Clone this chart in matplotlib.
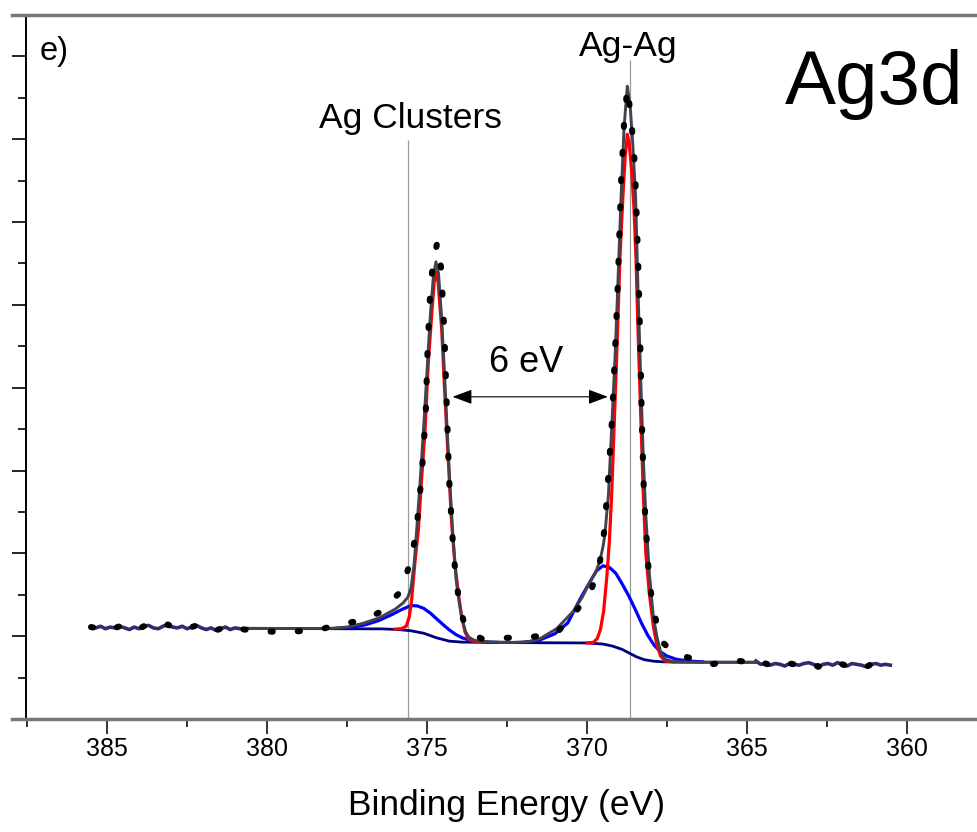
import matplotlib
matplotlib.use('Agg')
import matplotlib.pyplot as plt
from matplotlib.ticker import MultipleLocator, NullFormatter
from matplotlib.patches import ArrowStyle

plt.rcParams['font.family'] = ['Liberation Sans', 'DejaVu Sans']

# raw spectrum, outer (noisy) parts
noise_left_x = [385.5, 385.35, 385.2, 385.05, 384.9, 384.75, 384.6, 384.45, 384.3, 384.15,
                384.0, 383.85, 383.7, 383.55, 383.4, 383.25, 383.1, 382.95, 382.8, 382.65,
                382.5, 382.35, 382.2, 382.05, 381.9, 381.75, 381.6, 381.45, 381.3, 381.15,
                381.0, 380.85, 380.7]
noise_left_y = [1.11, 1.10, 1.12, 1.09, 1.11, 1.10, 1.12, 1.10, 1.08, 1.11,
                1.09, 1.12, 1.13, 1.10, 1.09, 1.12, 1.14, 1.11, 1.10, 1.12,
                1.09, 1.11, 1.13, 1.10, 1.08, 1.10, 1.07, 1.09, 1.11, 1.08,
                1.10, 1.09, 1.08]
noise_right_x = [364.72, 364.57, 364.42, 364.27, 364.12, 363.97, 363.82, 363.67, 363.52, 363.37,
                 363.22, 363.07, 362.92, 362.77, 362.62, 362.47, 362.32, 362.17, 362.02, 361.87,
                 361.72, 361.57, 361.42, 361.27, 361.12, 360.97, 360.82, 360.67, 360.52]
noise_right_y = [0.70, 0.66, 0.67, 0.65, 0.67, 0.66, 0.64, 0.67, 0.66, 0.65,
                 0.67, 0.68, 0.66, 0.63, 0.66, 0.67, 0.65, 0.68, 0.66, 0.64,
                 0.67, 0.66, 0.65, 0.63, 0.66, 0.67, 0.65, 0.66, 0.65]

# raw spectrum inside the fit window
raw_x = [380.5, 380.0, 379.3, 378.45, 377.67, 377.0, 376.42, 375.82, 375.53, 375.34,
         375.17, 375.04, 374.99, 374.91, 374.82, 374.68, 374.56, 374.46, 374.37, 374.31,
         374.20, 374.13, 374.02, 373.87, 373.6, 373.29, 372.5, 371.75, 370.97, 370.43,
         369.89, 369.61, 369.45, 369.33, 369.21, 369.05, 368.93, 368.84, 368.74, 368.62,
         368.50, 368.40, 368.34, 368.29, 368.22, 368.11, 368.05, 367.91, 367.70, 367.3,
         366.9, 366.1, 365.44, 364.8]
raw_y = [1.075, 1.055, 1.055, 1.07, 1.15, 1.19, 1.30, 1.54, 1.88, 2.24,
         2.93, 3.67, 4.38, 5.08, 5.50, 5.75, 5.45, 4.70, 3.63, 2.90,
         2.18, 1.84, 1.48, 1.20, 1.03, 0.97, 0.98, 0.99, 1.03, 1.26,
         1.53, 1.86, 2.30, 2.95, 3.66, 5.10, 6.53, 7.20, 7.62, 7.25,
         6.67, 5.50, 4.62, 3.66, 2.71, 2.00, 1.65, 1.30, 0.95, 0.80,
         0.75, 0.66, 0.71, 0.68]

# Shirley background
bg_x = [380.6, 378.0, 376.4, 375.9, 375.5, 375.1, 374.7, 374.3, 373.9, 372.0,
        370.0, 369.5, 369.2, 368.9, 368.7, 368.45, 368.2, 367.9, 367.6, 367.0, 364.7]
bg_y = [1.093, 1.09, 1.088, 1.08, 1.065, 1.035, 0.98, 0.94, 0.928, 0.922,
        0.918, 0.905, 0.88, 0.84, 0.80, 0.75, 0.715, 0.697, 0.69, 0.686, 0.685]

# Ag clusters components (blue)
blue1_x = [377.8, 377.3, 376.9, 376.5, 376.1, 375.8, 375.5, 375.3, 375.1, 374.9,
           374.7, 374.5, 374.3, 374.1, 373.9, 373.6, 373.2, 372.8]
blue1_y = [1.095, 1.11, 1.14, 1.19, 1.26, 1.32, 1.37, 1.365, 1.335, 1.28,
           1.21, 1.14, 1.075, 1.02, 0.98, 0.945, 0.93, 0.925]
blue2_x = [372.0, 371.5, 371.0, 370.6, 370.2, 369.9, 369.7, 369.5, 369.3, 369.1,
           368.9, 368.7, 368.5, 368.3, 368.1, 367.9, 367.7, 367.5, 367.2, 366.8, 366.4]
blue2_y = [0.925, 0.95, 1.03, 1.16, 1.46, 1.66, 1.79, 1.85, 1.83, 1.76,
           1.63, 1.49, 1.33, 1.16, 1.01, 0.89, 0.81, 0.76, 0.72, 0.70, 0.69]

# Ag-Ag components (red)
red1_x = [376.0, 375.8, 375.65, 375.55, 375.48, 375.38, 375.27, 375.17, 375.06, 374.96,
          374.85, 374.77, 374.72, 374.65, 374.54, 374.44, 374.33, 374.23, 374.13, 374.02,
          373.92, 373.81, 373.71, 373.55, 373.3]
red1_y = [1.085, 1.09, 1.12, 1.24, 1.44, 1.88, 2.28, 2.89, 3.49, 4.30,
          4.90, 5.30, 5.40, 5.26, 4.70, 3.89, 3.09, 2.36, 1.88, 1.52,
          1.24, 1.05, 0.97, 0.94, 0.932]
red2_x = [370.0, 369.8, 369.68, 369.58, 369.48, 369.38, 369.30, 369.23, 369.15, 369.05,
          368.97, 368.88, 368.81, 368.74, 368.68, 368.60, 368.53, 368.47, 368.40, 368.32,
          368.24, 368.16, 368.05, 367.93, 367.82, 367.70, 367.55, 367.3]
red2_y = [0.918, 0.925, 0.97, 1.08, 1.30, 1.72, 2.15, 2.70, 3.55, 4.62,
          5.57, 6.29, 6.77, 7.06, 6.95, 6.60, 6.15, 5.57, 4.62, 3.66,
          2.71, 1.99, 1.51, 1.13, 0.90, 0.76, 0.70, 0.69]

# fit envelope
env_x = [380.6, 379.5, 378.5, 378.0, 377.5, 377.0, 376.5, 376.0, 375.75, 375.6,
         375.5, 375.4, 375.31, 375.2, 375.1, 375.0, 374.9, 374.8, 374.72, 374.64,
         374.55, 374.47, 374.37, 374.28, 374.2, 374.09, 374.0, 373.9, 373.8, 373.7,
         373.5, 373.0, 372.3, 371.8, 371.47, 370.95, 370.43, 370.15, 369.91, 369.7,
         369.59, 369.5, 369.44, 369.33, 369.21, 369.12, 369.05, 368.93, 368.84, 368.74,
         368.65, 368.57, 368.48, 368.40, 368.32, 368.24, 368.16, 368.05, 367.93, 367.82,
         367.70, 367.55, 367.3, 366.0, 364.7]
env_y = [1.095, 1.093, 1.093, 1.095, 1.11, 1.155, 1.22, 1.325, 1.40, 1.47,
         1.58, 1.88, 2.35, 2.95, 3.55, 4.20, 4.85, 5.35, 5.52, 5.38,
         4.88, 4.30, 3.49, 2.80, 2.28, 1.68, 1.42, 1.20, 1.06, 0.99,
         0.945, 0.93, 0.925, 0.935, 0.97, 1.09, 1.30, 1.47, 1.65, 1.80,
         1.92, 2.08, 2.23, 2.71, 3.66, 4.40, 5.10, 6.35, 7.15, 7.64,
         7.40, 6.95, 6.30, 5.10, 4.10, 3.15, 2.45, 1.75, 1.25, 1.00,
         0.81, 0.72, 0.69, 0.685, 0.685]

fig = plt.figure(figsize=(9.78, 8.32), dpi=100)
ax = fig.add_axes([12 / 978, 113 / 832, 966 / 978, 704 / 832])

ax.vlines([375.59, 368.66], 0, [6.99, 7.96], color='#9a9a9a', lw=0.9, zorder=1)

ax.plot(noise_left_x, noise_left_y, color='#2e2e6e', lw=2.6, zorder=3)
ax.plot(noise_right_x, noise_right_y, color='#2e2e6e', lw=2.6, zorder=3)
ax.plot(bg_x, bg_y, color='#000080', lw=2, zorder=3)
ax.plot(blue1_x, blue1_y, color='#0000ff', lw=2.3, zorder=4)
ax.plot(blue2_x, blue2_y, color='#0000ff', lw=2.3, zorder=4)
ax.plot(red1_x, red1_y, color='#ff0000', lw=2.3, zorder=4)
ax.plot(red2_x, red2_y, color='#ff0000', lw=2.3, zorder=4)
ax.plot(env_x, env_y, color='#424250', lw=2.1, zorder=5)

dots = dict(color='black', lw=4.4, linestyle=(0, (0.35, 4.1)),
            dash_capstyle='round', zorder=6)
ax.plot(noise_left_x + raw_x + noise_right_x,
        noise_left_y + raw_y + noise_right_y, **dots)

ax.annotate('', xy=(374.2, 3.89), xytext=(369.35, 3.89),
            arrowprops=dict(arrowstyle=ArrowStyle('<|-|>', head_length=0.8, head_width=0.3),
                            mutation_scale=15, color='black', lw=0.8,
                            shrinkA=0, shrinkB=0))

ax.text(371.9, 4.19, '6 eV', fontsize=26, ha='center', va='baseline')
ax.text(375.53, 7.14, 'Ag Clusters', fontsize=25.5, ha='center', va='baseline')
ax.text(368.72, 8.0, 'Ag-Ag', fontsize=25.5, ha='center', va='baseline')
ax.text(387.12, 7.96, 'e)', fontsize=23.5, ha='left', va='baseline')
ax.text(361.03, 7.43, 'Ag3d', fontsize=55, ha='center', va='baseline')

ax.set_xlim(387.97, 357.78)
ax.set_ylim(0, 8.5)

ax.spines['left'].set_position(('data', 387.53))
ax.spines['left'].set_linewidth(1.4)
ax.spines['left'].set_color('black')
ax.spines['right'].set_visible(False)
for s in ['top', 'bottom']:
    ax.spines[s].set_color('#777777')
    ax.spines[s].set_linewidth(2.5)

ax.xaxis.set_major_locator(MultipleLocator(5))
ax.xaxis.set_minor_locator(MultipleLocator(2.5))
ax.yaxis.set_major_locator(MultipleLocator(1))
ax.yaxis.set_minor_locator(MultipleLocator(0.5))
ax.yaxis.set_major_formatter(NullFormatter())
ax.tick_params(axis='x', which='major', direction='out', length=11, width=1.3,
               labelsize=18, pad=2, color='#222222')
ax.tick_params(axis='x', which='minor', direction='out', length=6, width=1.3, color='#222222')
ax.tick_params(axis='y', which='major', direction='out', length=10, width=1.2)
ax.tick_params(axis='y', which='minor', direction='out', length=6, width=1.2)

fig.text(507 / 978, 1 - 805 / 832, 'Binding Energy (eV)', fontsize=25.5,
         ha='center', va='center')

fig.savefig('out.png', dpi=100)
